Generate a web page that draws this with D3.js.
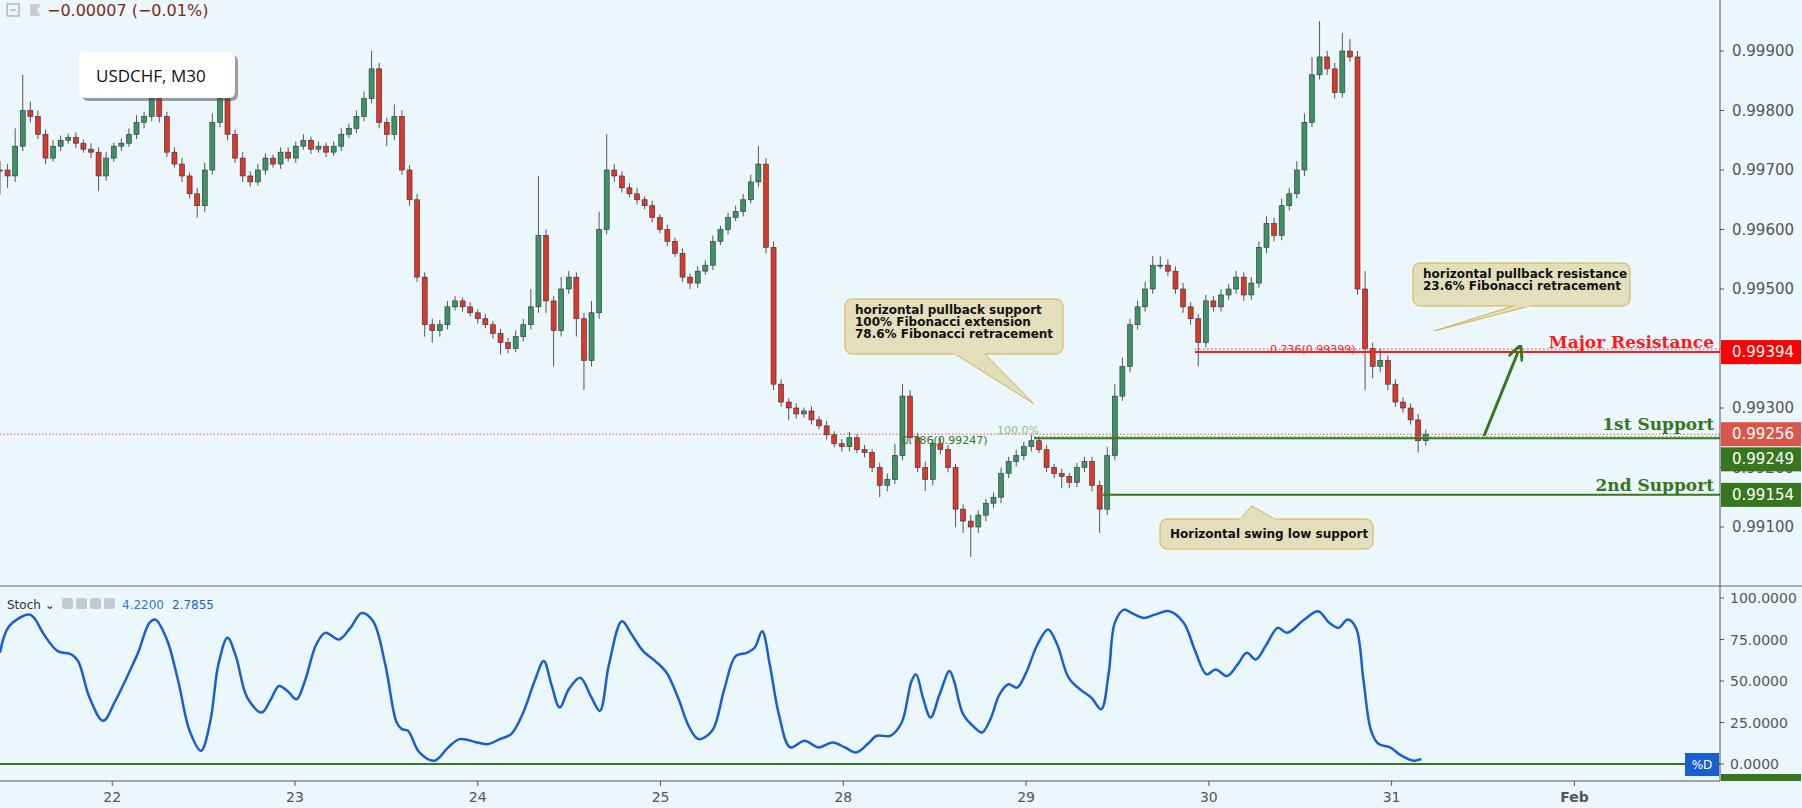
<!DOCTYPE html>
<html><head><meta charset="utf-8">
<script src="https://cdn.jsdelivr.net/npm/d3@7"></script>
<style>
body{margin:0;background:#ebf7fd;}
svg{display:block;font-family:"DejaVu Sans",sans-serif;}
</style></head>
<body><svg width="1802" height="808"></svg>
<script>
// closes in pips above 0.99 (hourly bars), open = previous close
const closes = [700,690,740,800,790,760,720,740,750,755,745,735,730,690,720,740,745,760,780,790,
 820,790,730,710,690,660,640,700,780,820,760,720,690,680,700,720,710,730,720,740,
 750,735,740,730,740,760,770,790,820,870,780,760,790,700,650,520,440,430,440,470,
 480,470,460,450,440,425,410,400,420,440,470,590,480,430,500,520,450,380,460,600,
 700,690,670,660,650,640,620,600,580,560,520,510,530,540,580,600,620,630,650,680,
 710,570,340,310,300,290,295,280,270,255,240,235,250,230,225,200,170,180,220,320,
 250,200,180,240,230,200,130,110,100,120,140,150,190,210,220,235,245,230,200,190,
 185,175,200,210,170,130,220,320,370,440,470,500,540,540,530,500,470,450,410,480,
 470,490,500,520,490,510,570,610,590,640,660,700,780,860,890,870,830,900,890,500,
 400,370,380,340,310,300,280,245,256];
const wickUp = [15,10,30,60,15,10,8,10,8,6,8,6,10,8,10,6,8,10,12,8,
 20,10,8,8,10,6,10,12,15,30,10,8,10,8,10,8,6,8,8,8,
 10,6,8,6,8,10,8,10,12,30,10,8,20,10,8,10,8,10,8,10,
 8,6,8,6,8,6,8,8,10,10,30,100,10,8,20,10,8,10,20,30,
 60,10,8,8,10,6,8,6,8,6,8,6,8,8,10,6,8,10,10,12,
 30,10,10,8,6,8,6,8,6,8,6,8,10,6,8,6,8,10,20,20,
 10,8,10,8,10,8,6,8,10,8,8,8,10,8,10,8,10,6,8,6,
 8,6,8,8,8,8,15,20,15,10,10,12,15,15,10,8,10,8,8,10,
 8,10,8,10,8,10,10,12,10,12,10,15,15,30,60,10,10,30,20,10,
 30,10,20,8,8,8,8,10,8];
const wickDn = [40,20,10,8,10,8,10,6,8,6,8,6,10,25,8,6,8,6,8,10,
 8,10,8,6,10,8,20,10,8,8,10,8,10,8,6,8,6,8,6,8,
 6,8,6,8,6,8,6,8,8,8,10,20,10,8,10,8,20,20,10,8,
 6,8,6,8,6,8,20,8,6,8,8,10,20,60,10,8,30,50,10,10,
 8,10,8,6,8,6,8,6,8,6,8,10,8,6,8,6,8,6,8,6,
 8,10,10,8,20,8,6,8,6,8,6,8,8,6,8,8,20,10,8,8,
 10,8,20,10,8,8,30,20,50,10,10,8,10,8,8,8,8,6,8,8,
 20,10,8,8,10,40,10,8,8,10,8,8,8,6,8,8,10,10,40,8,
 8,8,8,8,10,8,8,10,10,8,8,8,10,8,8,10,10,8,8,10,
 70,20,10,10,8,8,8,20,8];
// stochastic %D: [bar position, value]
const stoch = [[0,67],[1.2,83],[3.8,90],[4.5,88],[5.8,78],[7.6,68],[9.4,66],[10.3,62],[11.8,40],[13.6,26],
 [15.2,38],[16.7,52],[18.2,67],[19.7,85],[20.5,87],[22,75],[23.5,50],[25,20],[26.5,8],[27.7,25],
 [28.8,60],[30,76],[31.1,65],[32.6,40],[34.5,31],[35.6,38],[36.8,47],[37.9,44],[39.1,39],[40.2,50],
 [41.7,72],[42.9,79],[44.7,75],[46.2,82],[47.7,91],[49.2,86],[50.8,60],[52.3,25],[53,21],[53.8,20],
 [55.3,7],[57.3,2],[59.1,10],[60.6,15],[62.9,13],[64.4,12],[65.9,15],[67.4,18],[68.9,30],[70.5,50],
 [71.7,62],[72.7,48],[73.8,34],[75,45],[76.5,52],[78,40],[79.1,32],[80.3,60],[82,86],[83.3,78],
 [84.8,68],[86.4,62],[87.9,55],[89.4,40],[90.9,22],[92.1,15],[93.9,20],[95.5,45],[97,65],[98.5,67],
 [99.5,70],[100.5,80],[101.5,60],[102.7,30],[104.2,10],[106.1,14],[107.9,10],[109.8,13],[111.4,10],[112.9,7],
 [114.4,12],[115.6,17],[117.4,17],[118.9,25],[120.2,50],[120.8,54],[121.7,40],[122.7,28],[123.9,42],[125.2,56],
 [125.8,50],[127,30],[128.5,22],[129.5,19],[130.6,27],[131.8,42],[133,48],[134.1,46],[135.3,55],[136.8,72],
 [138.2,81],[139.4,72],[140.9,52],[142.4,45],[143.9,40],[145.2,33],[146.2,55],[147,85],[148.2,93],[149.2,91],
 [150.8,88],[152.3,90],[154.2,92],[156.1,85],[157.6,68],[159.1,54],[160.3,57],[161.8,53],[163.2,60],[164.4,67],
 [165.6,63],[167,72],[168.5,82],[169.7,79],[172,87],[173.8,92],[175.3,85],[176.5,82],[177.7,87],[178.8,82],
 [179.8,50],[180.8,20],[181.8,12],[183.3,10],[184.8,5],[186.4,2],[187.4,3]];
const dayLabels = ["22","23","24","25","28","29","30","31","Feb"];
const dayPos = [14.8,38.9,63.0,87.1,111.2,135.3,159.4,183.5,207.6];
const priceTicks = [0.991,0.992,0.993,0.994,0.995,0.996,0.997,0.998,0.999];
const stochTicks = [0,25,50,75,100];
const levels = {resistance:0.99394, current:0.99256, support1:0.99249, support2:0.99154};

const svg = d3.select("svg");
const W = 1720;
const x = d3.scaleLinear().domain([0, 226.8]).range([0, W]);
const y = d3.scaleLinear().domain([0.99, 1.0]).range([586.5, -8.5]);
const ys = d3.scaleLinear().domain([0, 100]).range([764, 598]);
const P = v => 0.99 + v / 100000;

const bars = closes.map((c, i) => {
  const o = i === 0 ? c : closes[i - 1];
  return {i, o: P(o), c: P(c), h: P(Math.max(o, c) + wickUp[i]), l: P(Math.min(o, c) - wickDn[i])};
});

const main = svg.append("g");
main.append("clipPath").attr("id", "clipm").append("rect").attr("width", W).attr("height", 586);
const plot = main.append("g").attr("clip-path", "url(#clipm)");

// current price dotted line
plot.append("line").attr("x1", 0).attr("x2", W).attr("y1", y(levels.current)).attr("y2", y(levels.current))
  .attr("stroke", "#e0584a").attr("stroke-dasharray", "1.5,2").attr("stroke-width", 1);

const cg = plot.append("g");
cg.selectAll("line").data(bars).join("line")
  .attr("x1", d => x(d.i)).attr("x2", d => x(d.i))
  .attr("y1", d => y(d.h)).attr("y2", d => y(d.l))
  .attr("stroke", "#555").attr("stroke-width", 1);
cg.selectAll("rect").data(bars).join("rect")
  .attr("x", d => x(d.i) - 2.5).attr("width", 5)
  .attr("y", d => y(Math.max(d.o, d.c)))
  .attr("height", d => Math.max(1, Math.abs(y(d.o) - y(d.c))))
  .attr("fill", d => d.c >= d.o ? "#3d9266" : "#d9382b")
  .attr("stroke", "#333").attr("stroke-width", 0.6);

// levels
const lvl = plot.append("g");
lvl.append("line").attr("x1", 1195).attr("x2", W).attr("y1", y(0.99399)).attr("y2", y(0.99399))
  .attr("stroke", "#ff3030").attr("stroke-dasharray", "1.5,2.5");
lvl.append("line").attr("x1", 1195).attr("x2", W).attr("y1", y(levels.resistance)).attr("y2", y(levels.resistance))
  .attr("stroke", "#ff1a1a").attr("stroke-width", 2);
lvl.append("text").attr("x", 1270).attr("y", y(0.99399) + 4).attr("fill", "#ff2020").attr("font-size", 11).text("0.236(0.99399)");
lvl.append("line").attr("x1", 1034).attr("x2", W).attr("y1", y(0.99252)).attr("y2", y(0.99252))
  .attr("stroke", "#6aa84f").attr("stroke-dasharray", "1.5,2.5");
lvl.append("line").attr("x1", 1034).attr("x2", W).attr("y1", y(levels.support1)).attr("y2", y(levels.support1))
  .attr("stroke", "#38761d").attr("stroke-width", 2);
lvl.append("text").attr("x", 902).attr("y", y(0.99247) + 4).attr("fill", "#38761d").attr("font-size", 11).text("0.786(0.99247)");
lvl.append("text").attr("x", 997).attr("y", y(0.99256)).attr("fill", "#8fc07a").attr("font-size", 11).text("100.0%");
lvl.append("line").attr("x1", 1103).attr("x2", W).attr("y1", y(levels.support2)).attr("y2", y(levels.support2))
  .attr("stroke", "#38761d").attr("stroke-width", 2);

const lab = [["Major Resistance", levels.resistance, "#ff1a1a"], ["1st Support", levels.current, "#38761d"], ["2nd Support", levels.support2, "#38761d"]];
lvl.selectAll("text.big").data(lab).join("text").attr("class", "big")
  .attr("x", 1714).attr("y", d => y(d[1]) - 4).attr("text-anchor", "end")
  .attr("font-family", "'DejaVu Serif',serif").attr("font-weight", "bold").attr("font-size", 17)
  .attr("fill", d => d[2]).text(d => d[0]);

// arrow
lvl.append("defs").append("marker").attr("id", "ah").attr("viewBox", "0 0 10 10").attr("refX", 5).attr("refY", 5)
  .attr("markerWidth", 5).attr("markerHeight", 5).attr("orient", "auto")
  .append("path").attr("d", "M0,0L10,5L0,10").attr("fill", "none").attr("stroke", "#38761d").attr("stroke-width", 2);
lvl.append("line").attr("x1", 1484).attr("y1", 436).attr("x2", 1518).attr("y2", 352)
  .attr("stroke", "#38761d").attr("stroke-width", 3).attr("marker-end", "url(#ah)");

// callouts
function callout(bx, by, bw, bh, tip, base, lines) {
  const g = svg.append("g");
  g.append("path").attr("d", `M${base[0]},${base[1]}L${tip[0]},${tip[1]}L${base[2]},${base[3]}Z`)
    .attr("fill", "#e3dfbd").attr("stroke", "#d4b24c");
  g.append("rect").attr("x", bx).attr("y", by).attr("width", bw).attr("height", bh).attr("rx", 7)
    .attr("fill", "#e3dfbd").attr("stroke", "#d4b24c");
  g.append("path").attr("d", `M${base[0]},${base[1]}L${base[2]},${base[3]}`).attr("stroke", "#e3dfbd").attr("stroke-width", 2);
  g.selectAll("text").data(lines).join("text")
    .attr("x", bx + 10).attr("y", (d, i) => by + 15 + i * 12 + (lines.length === 1 ? 4 : 0))
    .attr("font-size", 12).attr("font-weight", "bold").attr("fill", "#111").text(d => d);
}
callout(845, 299, 218, 55, [1034, 404], [955, 354, 985, 354],
  ["horizontal pullback support", "100% Fibonacci extension", "78.6% Fibonacci retracement"]);
callout(1413, 263, 217, 43, [1434, 331], [1513, 306, 1530, 306],
  ["horizontal pullback resistance", "23.6% Fibonacci retracement"]);
callout(1160, 519, 213, 30, [1252, 506], [1240, 519, 1275, 519], ["Horizontal swing low support"]);

// title box
const tb = svg.append("g");
tb.append("rect").attr("x", 82).attr("y", 55).attr("width", 156).attr("height", 46).attr("rx", 6).attr("fill", "#444").attr("opacity", 0.5);
tb.append("rect").attr("x", 79).attr("y", 52).attr("width", 156).attr("height", 46).attr("rx", 6).attr("fill", "#fff");
tb.append("text").attr("x", 96).attr("y", 82).attr("font-family", "'Open Sans',sans-serif").attr("font-size", 17).attr("fill", "#111").text("USDCHF, M30");

// header
svg.append("rect").attr("x", 7).attr("y", 4).attr("width", 12).attr("height", 12).attr("fill", "none").attr("stroke", "#999");
svg.append("line").attr("x1", 10).attr("x2", 16).attr("y1", 10).attr("y2", 10).attr("stroke", "#999");
svg.append("path").attr("d", "M30,4h11l-4,6l4,6h-11z").attr("fill", "#ccc");
svg.append("text").attr("x", 47).attr("y", 16).attr("font-size", 16).attr("fill", "#7a2a12").text("\u22120.00007 (\u22120.01%)");

// price axis
const ax = svg.append("g");
ax.append("line").attr("x1", W).attr("x2", W).attr("y1", 0).attr("y2", 781).attr("stroke", "#555");
ax.append("line").attr("x1", 0).attr("x2", 1802).attr("y1", 586).attr("y2", 586).attr("stroke", "#666");
ax.append("line").attr("x1", 0).attr("x2", W).attr("y1", 781).attr("y2", 781).attr("stroke", "#555");
const pt = ax.selectAll("g.pt").data(priceTicks).join("g").attr("class", "pt").attr("transform", d => `translate(${W},${y(d)})`);
pt.append("line").attr("x2", 4).attr("stroke", "#555");
pt.append("text").attr("x", 12).attr("dy", 5).attr("font-size", 15).attr("fill", "#555").text(d => d.toFixed(5));

// badges stacked so they do not overlap
const badges = [[levels.resistance, "#ff0000", 0], [levels.current, "#d9574a", 0], [levels.support1, "#38761d", 21], [levels.support2, "#38761d", 0]];
const bg = ax.selectAll("g.bd").data(badges).join("g").attr("class", "bd")
  .attr("transform", d => `translate(${W + 1},${y(d[0]) + d[2]})`);
bg.append("rect").attr("y", -12).attr("width", 80).attr("height", 24).attr("fill", d => d[1]);
bg.append("text").attr("x", 11).attr("dy", 5).attr("font-size", 15).attr("fill", "#fff").text(d => d[0].toFixed(5));

// stochastic
const sg = svg.append("g");
sg.append("line").attr("x1", 0).attr("x2", W).attr("y1", ys(0)).attr("y2", ys(0)).attr("stroke", "#2e7d1c").attr("stroke-width", 2);
sg.append("path").datum(stoch)
  .attr("d", d3.line().x(d => x(d[0])).y(d => ys(d[1])).curve(d3.curveCatmullRom))
  .attr("fill", "none").attr("stroke", "#1a5fd0").attr("stroke-width", 2.5);
const st = sg.selectAll("g.st").data(stochTicks).join("g").attr("class", "st").attr("transform", d => `translate(${W},${ys(d)})`);
st.append("line").attr("x2", 4).attr("stroke", "#555");
st.append("text").attr("x", 10).attr("dy", 5).attr("font-size", 14).attr("fill", "#555").text(d => d.toFixed(4));
sg.append("rect").attr("x", 1685).attr("y", 753).attr("width", 34).attr("height", 23).attr("fill", "#1a5fd0");
sg.append("text").attr("x", 1702).attr("y", 769).attr("text-anchor", "middle").attr("font-size", 12).attr("fill", "#fff").text("%D");
sg.append("rect").attr("x", W + 1).attr("y", 774).attr("width", 80).attr("height", 7).attr("fill", "#38761d");
sg.append("text").attr("x", 7).attr("y", 609).attr("font-size", 12).attr("fill", "#333").text("Stoch \u2304");
[62, 76, 90, 104].forEach(v => sg.append("rect").attr("x", v).attr("y", 598).attr("width", 11).attr("height", 11).attr("rx", 2).attr("fill", "#c5cad0"));
sg.append("text").attr("x", 122).attr("y", 609).attr("font-size", 12).attr("fill", "#2a7ad8").text("4.2200");
sg.append("text").attr("x", 172).attr("y", 609).attr("font-size", 12).attr("fill", "#1a5fd0").text("2.7855");

// time axis
const ta = svg.append("g");
const tg = ta.selectAll("g").data(dayPos).join("g").attr("transform", d => `translate(${x(d)},781)`);
tg.append("line").attr("y2", 5).attr("stroke", "#555");
tg.append("text").attr("y", 21).attr("text-anchor", "middle").attr("font-size", 14).attr("fill", "#555")
  .attr("font-weight", (d, i) => i === 8 ? "bold" : "normal").text((d, i) => dayLabels[i]);
</script></body></html>
